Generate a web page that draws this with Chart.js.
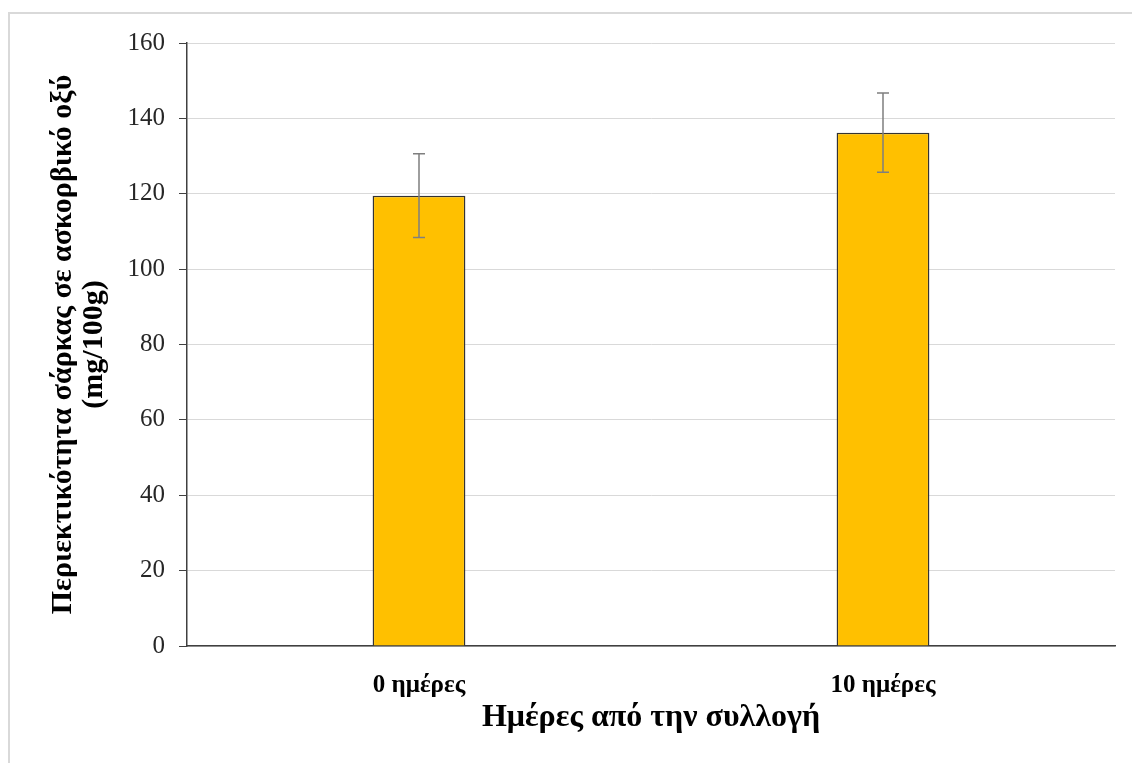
<!DOCTYPE html>
<html>
<head>
<meta charset="utf-8">
<script src="https://cdn.jsdelivr.net/npm/chart.js@4.4.1/dist/chart.umd.min.js"></script>
<style>
  html, body { margin: 0; padding: 0; background: #fff; }
  #wrap { position: relative; width: 1132px; height: 763px; overflow: hidden; }
  #frame { position: absolute; left: 8px; top: 12px; width: 1200px; height: 800px; border: 2px solid #d9d9d9; pointer-events: none; }
  canvas { position: absolute; left: 0; top: 0; }
</style>
</head>
<body>
<div id="wrap">
  <canvas id="c" width="1132" height="763"></canvas>
  <div id="frame"></div>
</div>
<script>
const categories = ['0 ημέρες', '10 ημέρες'];
const values = [119.5, 136.2];
const errors = [11.1, 10.5];
const yTicks = [0, 20, 40, 60, 80, 100, 120, 140, 160];
const yTitle = ['Περιεκτικότητα σάρκας σε ασκορβικό οξύ', '(mg/100g)'];
const xTitle = 'Ημέρες από την συλλογή';

const FONT = "'Liberation Serif', 'Times New Roman', serif";

const errorBars = {
  id: 'errorBars',
  afterDatasetsDraw(chart) {
    const ctx = chart.ctx;
    const meta = chart.getDatasetMeta(0);
    const y = chart.scales.y;
    ctx.save();
    ctx.strokeStyle = '#7f7f7f';
    ctx.lineWidth = 1.5;
    meta.data.forEach((bar, i) => {
      const x = bar.x;
      const hi = y.getPixelForValue(values[i] + errors[i]);
      const lo = y.getPixelForValue(values[i] - errors[i]);
      ctx.beginPath();
      ctx.moveTo(x, hi); ctx.lineTo(x, lo);
      ctx.moveTo(x - 6, hi); ctx.lineTo(x + 6, hi);
      ctx.moveTo(x - 6, lo); ctx.lineTo(x + 6, lo);
      ctx.stroke();
    });
    ctx.restore();
  }
};

new Chart(document.getElementById('c'), {
  type: 'bar',
  data: {
    labels: categories,
    datasets: [{
      data: values,
      backgroundColor: '#ffc000',
      borderColor: '#333333',
      borderWidth: 1.5,
      barPercentage: 0.2,
      categoryPercentage: 1.0
    }]
  },
  options: {
    responsive: false,
    animation: false,
    layout: { padding: { left: 9, top: 43, right: 17, bottom: 0 } },
    plugins: { legend: { display: false }, tooltip: { enabled: false } },
    scales: {
      x: {
        afterFit(scale) { scale.height = 763 - 646; },
        grid: { display: false },
        border: { display: true, color: '#404040', width: 1.5 },
        ticks: { color: '#000', padding: 17, font: { family: FONT, size: 25, weight: 'bold' } },
        title: {
          display: true, text: xTitle, color: '#000',
          font: { family: FONT, size: 32, weight: 'bold' },
          padding: { top: 0, bottom: 26 }
        }
      },
      y: {
        min: 0, max: 160,
        afterFit(scale) { scale.width = 178; },
        afterBuildTicks(scale) { scale.ticks = yTicks.map(v => ({ value: v })); },
        grid: { color: '#d9d9d9', lineWidth: 1, tickLength: 8, tickColor: '#404040' },
        border: { display: true, color: '#404040', width: 1.5 },
        ticks: { color: '#262626', padding: 14, font: { family: FONT, size: 25 } },
        title: {
          display: true, text: yTitle, color: '#000',
          font: { family: FONT, size: 30, weight: 'bold', lineHeight: 1.05 },
          padding: { top: 38, bottom: 0 }
        }
      }
    }
  },
  plugins: [errorBars]
});
</script>
</body>
</html>
